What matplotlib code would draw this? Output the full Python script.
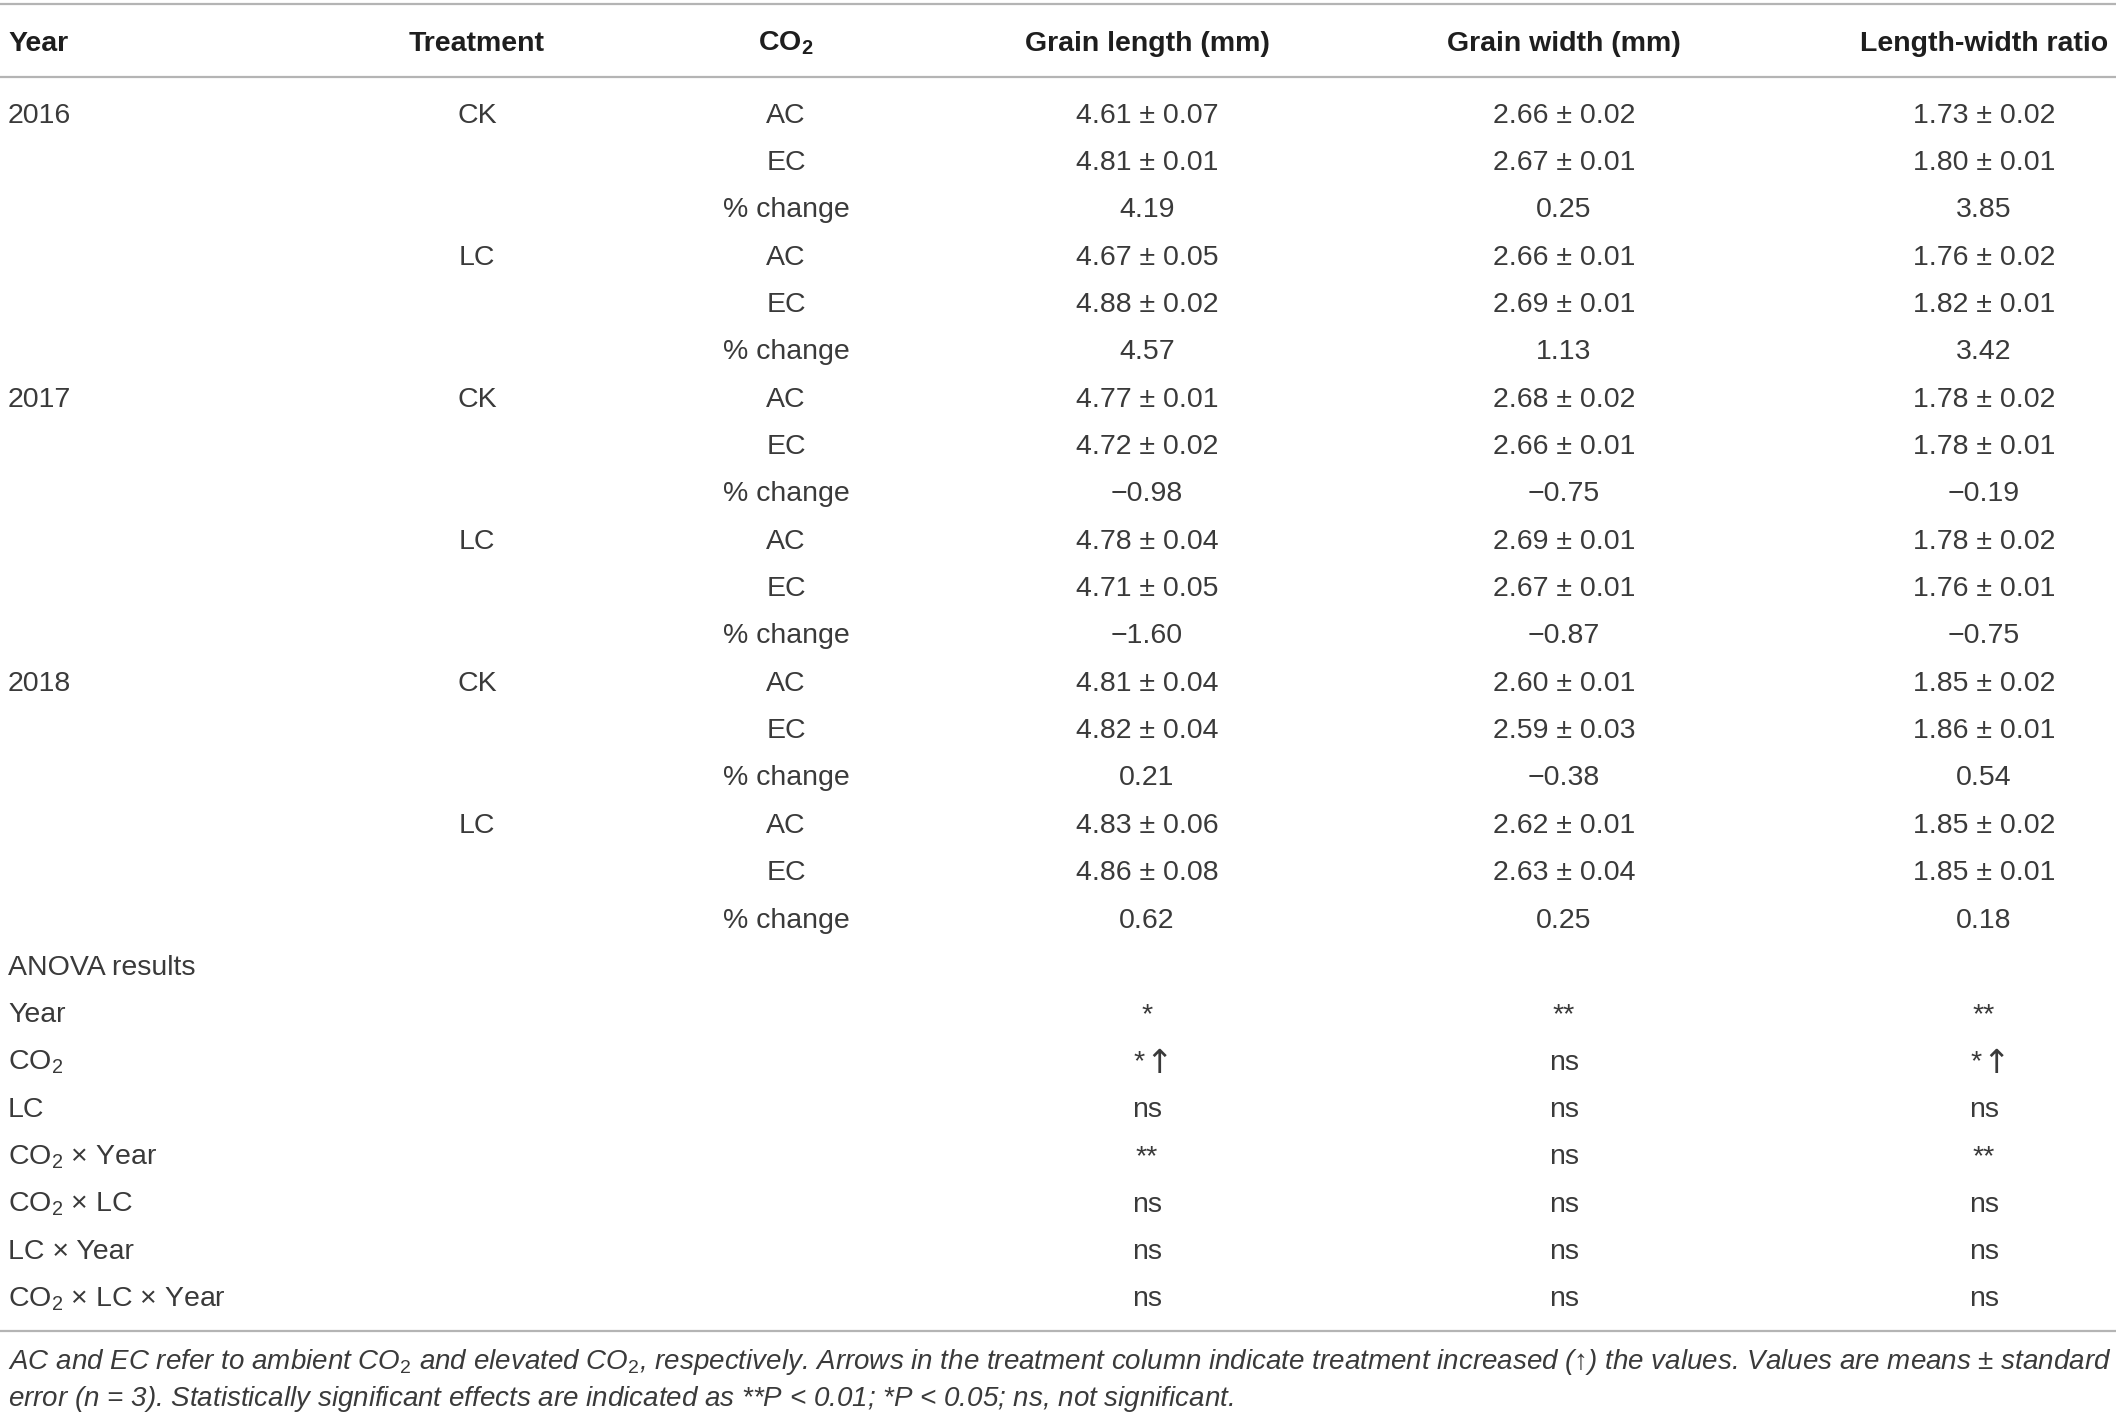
import matplotlib
matplotlib.use("Agg")
import matplotlib.pyplot as plt

plt.rcParams['font.family'] = ['Liberation Sans', 'DejaVu Sans']
plt.rcParams['mathtext.fontset'] = 'custom'
plt.rcParams['mathtext.rm'] = 'Liberation Sans'
plt.rcParams['mathtext.it'] = 'Liberation Sans:italic'
plt.rcParams['mathtext.bf'] = 'Liberation Sans:bold'

### data of the table
headers = ["Year", "Treatment", r"CO$_\mathbf{2}$", "Grain length (mm)", "Grain width (mm)", "Length-width ratio"]
years = ["2016", "2017", "2018"]
treatments = ["CK", "LC"]
co2_levels = ["AC", "EC"]
pct_label = "% change"

gl_mean = [4.61, 4.81, 4.67, 4.88, 4.77, 4.72, 4.78, 4.71, 4.81, 4.82, 4.83, 4.86]
gl_se = [0.07, 0.01, 0.05, 0.02, 0.01, 0.02, 0.04, 0.05, 0.04, 0.04, 0.06, 0.08]
gl_pct = [4.19, 4.57, -0.98, -1.60, 0.21, 0.62]

gw_mean = [2.66, 2.67, 2.66, 2.69, 2.68, 2.66, 2.69, 2.67, 2.60, 2.59, 2.62, 2.63]
gw_se = [0.02, 0.01, 0.01, 0.01, 0.02, 0.01, 0.01, 0.01, 0.01, 0.03, 0.01, 0.04]
gw_pct = [0.25, 1.13, -0.75, -0.87, -0.38, 0.25]

lw_mean = [1.73, 1.80, 1.76, 1.82, 1.78, 1.78, 1.78, 1.76, 1.85, 1.86, 1.85, 1.85]
lw_se = [0.02, 0.01, 0.02, 0.01, 0.02, 0.01, 0.02, 0.01, 0.02, 0.01, 0.02, 0.01]
lw_pct = [3.85, 3.42, -0.19, -0.75, 0.54, 0.18]

anova_title = "ANOVA results"
anova_terms = ["Year", "CO$_2$", "LC", "CO$_2$ × Year", "CO$_2$ × LC", "LC × Year", "CO$_2$ × LC × Year"]
anova_gl = ["*", "*↑", "ns", "**", "ns", "ns", "ns"]
anova_gw = ["**", "ns", "ns", "ns", "ns", "ns", "ns"]
anova_lw = ["**", "*↑", "ns", "**", "ns", "ns", "ns"]

footnote = ["AC and EC refer to ambient CO$_2$ and elevated CO$_2$, respectively. Arrows in the treatment column "
            "indicate treatment increased (↑) the values. Values are means ± standard",
            "error ($n$ = 3). Statistically significant effects are indicated as **$P$ < 0.01; *$P$ < 0.05; ns, not significant."]


def fmt(v):
    return f"{v:.2f}".replace("-", "−")


def fmt_se(m, s):
    return f"{m:.2f} ± {s:.2f}"


### build rows
rows = []
for yi, year in enumerate(years):
    for ti, trt in enumerate(treatments):
        k = yi * 2 + ti
        for ci, lev in enumerate(co2_levels):
            j = k * 2 + ci
            first = (ti == 0 and ci == 0)
            rows.append([year if first else "", trt if ci == 0 else "", lev,
                         fmt_se(gl_mean[j], gl_se[j]), fmt_se(gw_mean[j], gw_se[j]), fmt_se(lw_mean[j], lw_se[j])])
        rows.append(["", "", pct_label, fmt(gl_pct[k]), fmt(gw_pct[k]), fmt(lw_pct[k])])

### drawing
W, H = 2121, 1417
fig = plt.figure(figsize=(W / 100, H / 100), dpi=100)
ax = fig.add_axes([0, 0, 1, 1])
ax.set_xlim(0, W)
ax.set_ylim(H, 0)
ax.axis('off')

col_x = [8, 477, 786, 1147, 1564, 1984]
col_ha = ['left', 'center', 'center', 'center', 'center', 'center']
fs = 20.5
txt_color = '#3a3a3a'
line_color = '#b4b4b4'

y_head = 40.5
y0 = 112.3
dy = 47.35
base = 10.3

for x, ha, h in zip(col_x, col_ha, headers):
    ax.text(x, y_head + base, h, ha=ha, va='baseline', fontsize=fs, fontweight='bold', color='#1e1e1e')

for i, r in enumerate(rows):
    y = y0 + i * dy + base
    for x, ha, c in zip(col_x, col_ha, r):
        if c:
            ax.text(x, y, c, ha=ha, va='baseline', fontsize=fs, color=txt_color)

n = len(rows)
ax.text(col_x[0], y0 + n * dy + base, anova_title, ha='left', va='baseline', fontsize=fs, color=txt_color)
for i, term in enumerate(anova_terms):
    y = y0 + (n + 1 + i) * dy + base
    ax.text(col_x[0], y, term, ha='left', va='baseline', fontsize=fs, color=txt_color)
    for x, v in zip(col_x[3:], [anova_gl[i], anova_gw[i], anova_lw[i]]):
        if v.endswith('↑'):
            # small star, then the tall thin arrow of the original
            ax.text(x - 2, y, v[:-1], ha='right', va='baseline', fontsize=fs, color=txt_color)
            ax.text(x - 2, y + 3, '↑', ha='left', va='baseline', fontsize=fs * 1.15,
                    family=['DejaVu Sans'], color=txt_color)
        else:
            ax.text(x, y, v, ha='center', va='baseline', fontsize=fs, color=txt_color)

y_bottom = y0 + (n + len(anova_terms)) * dy + 35
for yl in [4, 77, y_bottom]:
    ax.plot([0, 2116], [yl, yl], color=line_color, lw=1.6, solid_capstyle='butt')

# footnote, fitted to the table width
fig.canvas.draw()
renderer = fig.canvas.get_renderer()
probe = ax.text(8, 0, footnote[0], fontsize=20, style='italic')
wpx = probe.get_window_extent(renderer).width
probe.remove()
fs_note = 20 * 2105 / wpx
for i, line in enumerate(footnote):
    ax.text(8, 1369 + i * 37, line, ha='left', va='baseline', fontsize=fs_note, style='italic', color=txt_color)

fig.savefig('out.png', dpi=100)
